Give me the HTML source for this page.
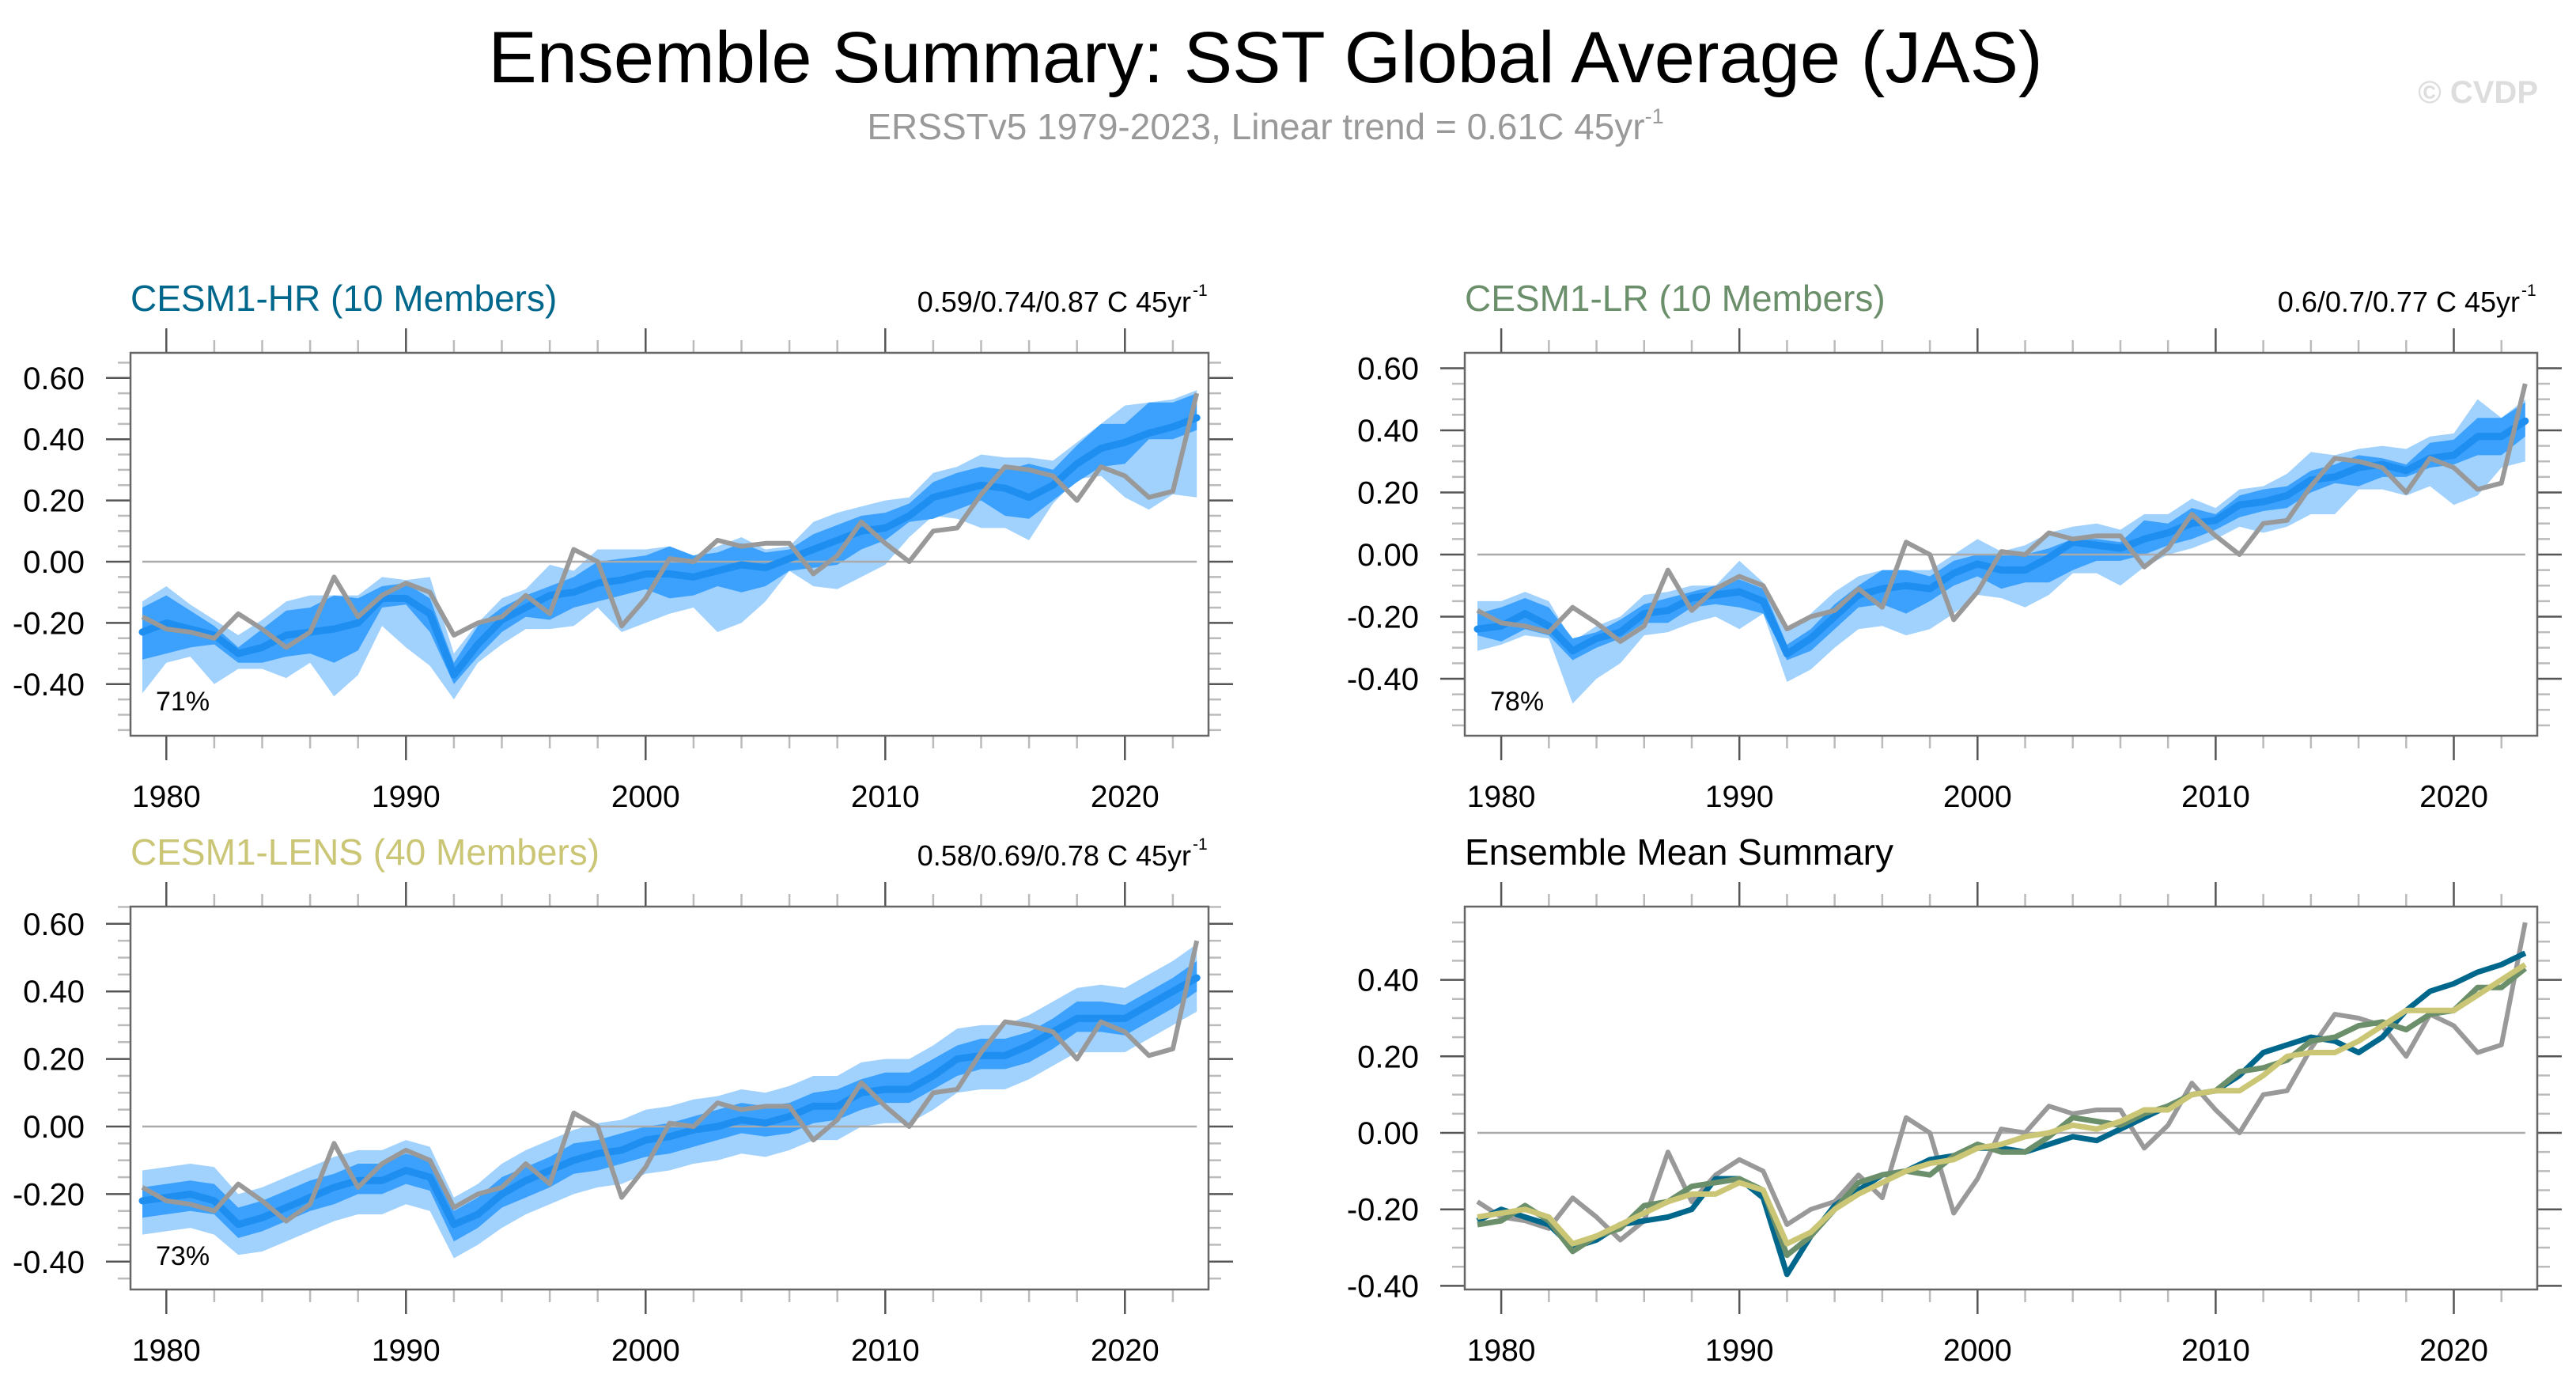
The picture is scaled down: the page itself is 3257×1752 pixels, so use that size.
<!DOCTYPE html>
<html><head><meta charset="utf-8">
<style>
html,body{margin:0;padding:0;background:#fff;}
svg{display:block;font-family:"Liberation Sans",sans-serif;}
</style></head>
<body>
<svg id="chart" width="3257" height="1752" viewBox="0 0 3257 1752" xmlns="http://www.w3.org/2000/svg">
<text x="1600" y="104" font-size="92" text-anchor="middle" fill="#000">Ensemble Summary: SST Global Average (JAS)</text>
<text x="1600" y="176" font-size="46" text-anchor="middle" fill="#999">ERSSTv5 1979-2023, Linear trend = 0.61C 45yr<tspan font-size="27" dy="-20">-1</tspan></text>
<text x="3209" y="130" font-size="40" font-weight="bold" text-anchor="end" fill="#ddd">© CVDP</text>
<g id="panels"></g>
</svg>
<script>
const years = [];
for (let y = 1979; y <= 2023; y++) years.push(y);

const obs = [-0.18,-0.22,-0.23,-0.25,-0.17,-0.22,-0.28,-0.23,-0.05,-0.18,-0.11,-0.07,-0.10,-0.24,-0.20,-0.18,-0.11,-0.17,0.04,0.00,-0.21,-0.12,0.01,0.00,0.07,0.05,0.06,0.06,-0.04,0.02,0.13,0.06,0.00,0.10,0.11,0.22,0.31,0.30,0.28,0.20,0.31,0.28,0.21,0.23,0.55];

const hrMean = [-0.23,-0.20,-0.22,-0.24,-0.30,-0.28,-0.24,-0.23,-0.22,-0.20,-0.12,-0.12,-0.17,-0.37,-0.27,-0.19,-0.15,-0.11,-0.10,-0.07,-0.06,-0.04,-0.04,-0.05,-0.03,-0.01,-0.02,0.01,0.04,0.07,0.10,0.11,0.15,0.21,0.23,0.25,0.24,0.21,0.25,0.32,0.37,0.39,0.42,0.44,0.47];
const hrDarkHi = [-0.15,-0.11,-0.16,-0.21,-0.28,-0.22,-0.16,-0.15,-0.11,-0.12,-0.08,-0.07,-0.12,-0.33,-0.21,-0.15,-0.11,-0.08,-0.05,0.00,0.01,0.02,0.05,0.02,0.03,0.06,0.03,0.04,0.09,0.12,0.15,0.16,0.19,0.26,0.29,0.31,0.30,0.32,0.30,0.38,0.45,0.45,0.52,0.52,0.55];
const hrDarkLo = [-0.32,-0.30,-0.28,-0.27,-0.33,-0.33,-0.31,-0.30,-0.33,-0.29,-0.15,-0.14,-0.23,-0.40,-0.31,-0.23,-0.18,-0.19,-0.15,-0.13,-0.11,-0.09,-0.12,-0.11,-0.08,-0.10,-0.08,-0.03,-0.02,-0.01,0.04,0.07,0.13,0.14,0.17,0.20,0.15,0.14,0.20,0.26,0.31,0.32,0.40,0.40,0.43];
const hrLightHi = [-0.13,-0.08,-0.14,-0.19,-0.24,-0.19,-0.13,-0.11,-0.11,-0.11,-0.05,-0.06,-0.05,-0.30,-0.20,-0.12,-0.09,-0.01,-0.03,0.04,0.04,0.04,0.05,0.02,0.05,0.08,0.04,0.05,0.13,0.16,0.18,0.20,0.21,0.29,0.31,0.35,0.34,0.34,0.33,0.39,0.45,0.51,0.52,0.53,0.56];
const hrLightLo = [-0.43,-0.33,-0.31,-0.40,-0.35,-0.35,-0.38,-0.33,-0.44,-0.37,-0.21,-0.28,-0.34,-0.45,-0.33,-0.27,-0.22,-0.22,-0.21,-0.15,-0.23,-0.20,-0.17,-0.15,-0.23,-0.20,-0.13,-0.03,-0.08,-0.09,-0.05,-0.01,0.08,0.15,0.14,0.11,0.11,0.07,0.19,0.27,0.28,0.21,0.17,0.22,0.21];

const lrMean = [-0.24,-0.23,-0.19,-0.23,-0.31,-0.27,-0.25,-0.19,-0.18,-0.14,-0.13,-0.12,-0.15,-0.32,-0.27,-0.20,-0.13,-0.11,-0.10,-0.11,-0.06,-0.03,-0.05,-0.05,-0.01,0.04,0.03,0.02,0.05,0.07,0.10,0.11,0.16,0.17,0.19,0.24,0.25,0.28,0.29,0.27,0.31,0.32,0.38,0.38,0.43];
const lrDarkHi = [-0.19,-0.17,-0.14,-0.17,-0.27,-0.25,-0.21,-0.16,-0.14,-0.12,-0.10,-0.08,-0.11,-0.29,-0.24,-0.16,-0.10,-0.05,-0.05,-0.07,-0.02,0.00,0.00,0.00,0.02,0.05,0.05,0.04,0.11,0.10,0.15,0.13,0.19,0.21,0.22,0.27,0.29,0.32,0.31,0.29,0.36,0.37,0.44,0.44,0.49];
const lrDarkLo = [-0.26,-0.28,-0.24,-0.26,-0.34,-0.30,-0.27,-0.22,-0.22,-0.17,-0.16,-0.17,-0.19,-0.34,-0.31,-0.24,-0.17,-0.16,-0.19,-0.15,-0.10,-0.07,-0.11,-0.09,-0.09,-0.05,-0.02,-0.02,0.00,0.03,0.05,0.08,0.12,0.14,0.15,0.20,0.23,0.22,0.25,0.25,0.28,0.29,0.32,0.32,0.38];
const lrLightHi = [-0.15,-0.15,-0.12,-0.15,-0.28,-0.23,-0.20,-0.13,-0.12,-0.10,-0.10,-0.02,-0.09,-0.25,-0.19,-0.12,-0.07,-0.05,-0.05,-0.05,0.00,0.05,0.01,0.03,0.07,0.09,0.10,0.08,0.13,0.13,0.18,0.15,0.21,0.22,0.26,0.33,0.32,0.34,0.35,0.34,0.38,0.39,0.50,0.44,0.50];
const lrLightLo = [-0.31,-0.29,-0.26,-0.27,-0.48,-0.40,-0.35,-0.26,-0.25,-0.22,-0.20,-0.24,-0.19,-0.41,-0.37,-0.30,-0.24,-0.23,-0.26,-0.24,-0.19,-0.13,-0.14,-0.17,-0.13,-0.06,-0.06,-0.10,-0.04,0.00,0.02,0.05,0.09,0.07,0.09,0.13,0.13,0.21,0.21,0.19,0.22,0.16,0.19,0.28,0.30];

const lensMean = [-0.22,-0.21,-0.20,-0.22,-0.29,-0.27,-0.24,-0.21,-0.18,-0.16,-0.16,-0.13,-0.15,-0.29,-0.26,-0.20,-0.16,-0.13,-0.10,-0.08,-0.07,-0.04,-0.03,-0.01,0.00,0.02,0.01,0.03,0.06,0.06,0.10,0.11,0.11,0.15,0.20,0.21,0.21,0.24,0.28,0.32,0.32,0.32,0.36,0.40,0.44];
const lensDarkHi = [-0.18,-0.17,-0.16,-0.17,-0.24,-0.22,-0.19,-0.16,-0.14,-0.11,-0.11,-0.08,-0.10,-0.25,-0.21,-0.15,-0.12,-0.09,-0.05,-0.04,-0.02,0.00,0.01,0.03,0.05,0.07,0.06,0.07,0.10,0.11,0.14,0.16,0.16,0.20,0.24,0.26,0.26,0.28,0.32,0.37,0.37,0.36,0.40,0.44,0.49];
const lensDarkLo = [-0.27,-0.26,-0.25,-0.26,-0.33,-0.31,-0.28,-0.25,-0.23,-0.20,-0.20,-0.17,-0.19,-0.34,-0.30,-0.24,-0.21,-0.18,-0.14,-0.13,-0.11,-0.09,-0.08,-0.06,-0.04,-0.02,-0.03,-0.02,0.01,0.02,0.05,0.07,0.07,0.11,0.15,0.17,0.17,0.19,0.23,0.28,0.28,0.27,0.31,0.35,0.40];
const lensLightHi = [-0.13,-0.12,-0.11,-0.12,-0.20,-0.18,-0.15,-0.12,-0.09,-0.07,-0.07,-0.04,-0.06,-0.21,-0.17,-0.11,-0.07,-0.04,-0.01,0.01,0.02,0.05,0.06,0.08,0.09,0.11,0.10,0.12,0.15,0.15,0.19,0.20,0.20,0.24,0.29,0.30,0.30,0.33,0.37,0.41,0.42,0.41,0.45,0.49,0.54];
const lensLightLo = [-0.32,-0.31,-0.30,-0.32,-0.38,-0.37,-0.34,-0.31,-0.28,-0.26,-0.26,-0.23,-0.25,-0.39,-0.35,-0.30,-0.26,-0.23,-0.20,-0.18,-0.17,-0.14,-0.13,-0.11,-0.10,-0.08,-0.09,-0.07,-0.04,-0.04,0.00,0.01,0.01,0.05,0.10,0.11,0.11,0.14,0.18,0.22,0.22,0.22,0.26,0.30,0.34];

const yTicksA = [-0.4,-0.2,0,0.2,0.4,0.6];
const yTickLabelsA = ["-0.40","-0.20","0.00","0.20","0.40","0.60"];
const xTicks = [1980,1990,2000,2010,2020];
const xTickLabels = ["1980","1990","2000","2010","2020"];

const NS = "http://www.w3.org/2000/svg";
const root = document.getElementById("panels");
function el(tag, attrs, parent, text) {
  const e = document.createElementNS(NS, tag);
  for (const k in attrs) e.setAttribute(k, attrs[k]);
  if (text !== undefined) e.textContent = text;
  (parent || root).appendChild(e);
  return e;
}

function panel(cfg) {
  const g = el("g", {});
  
  
  const {L, R, T, B, x0, pxYr, y0, pxUnit} = cfg;
  const X = yr => x0 + (yr - 1979) * pxYr;
  const Y = v => y0 - v * pxUnit;
  const vMin = (y0 - B) / pxUnit, vMax = (y0 - T) / pxUnit;

  for (let k = Math.ceil(vMin / 0.05 - 1e-6); k * 0.05 <= vMax + 1e-6; k++) {
    const v = k * 0.05, yy = Y(v);
    const major = Math.abs(v / 0.2 - Math.round(v / 0.2)) < 1e-6;
    const t1 = el("line", {x1: L - (major ? 31 : 16), x2: L, y1: yy, y2: yy, stroke: major ? "#555" : "#bbb", "stroke-width": 2.5}, g);
    
    
    const t2 = el("line", {x1: R, x2: R + (major ? 31 : 16), y1: yy, y2: yy, stroke: major ? "#555" : "#bbb", "stroke-width": 2.5}, g);
    
    
  }
  for (let yr = 1980; yr <= 2023; yr += 2) {
    const xx = X(yr), major = yr % 10 === 0;
    const len = major ? 31 : 16;
    const a = el("line", {x1: xx, x2: xx, y1: T - len, y2: T, stroke: major ? "#555" : "#bbb", "stroke-width": 2.5}, g);
    
    
    const b = el("line", {x1: xx, x2: xx, y1: B, y2: B + len, stroke: major ? "#555" : "#bbb", "stroke-width": 2.5}, g);
    
    
  }
  const yt = cfg.yTicks;
  yt.forEach((v, i) => {
    if (v < vMin || v > vMax) return;
    const t = el("text", {x: L - 58, y: Y(v) + 14, "font-size": 40, "text-anchor": "end", fill: "#000"}, g, cfg.yLabels[i]);
    
    
  });
  xTicks.forEach((yr, i) => {
    const t = el("text", {x: X(yr), y: B + 90, "font-size": 39, "text-anchor": "middle", fill: "#000"}, g, xTickLabels[i]);
    
    
  });

  const pathOf = arr => arr.map((v, i) => (i ? "L" : "M") + X(years[i]).toFixed(1) + " " + Y(v).toFixed(1)).join(" ");
  const bandOf = (hi, lo) => {
    let d = hi.map((v, i) => (i ? "L" : "M") + X(years[i]).toFixed(1) + " " + Y(v).toFixed(1)).join(" ");
    for (let i = lo.length - 1; i >= 0; i--) d += " L" + X(years[i]).toFixed(1) + " " + Y(lo[i]).toFixed(1);
    return d + " Z";
  };

  if (cfg.bands) {
    const lb = el("path", {d: bandOf(cfg.bands.lightHi, cfg.bands.lightLo), fill: "#a1d1fd"}, g);
    
    
    const db = el("path", {d: bandOf(cfg.bands.darkHi, cfg.bands.darkLo), fill: "#3ba1fd"}, g);
    
    
  }
  const z = el("line", {x1: x0, x2: X(2023), y1: Y(0), y2: Y(0), stroke: "#aaa", "stroke-width": 2.5}, g);
  
  

  if (cfg.bands) {
    const m = el("path", {d: pathOf(cfg.mean), fill: "none", stroke: "#1e8ef0", "stroke-width": 9, "stroke-linejoin": "round", "stroke-linecap": "round"}, g);
    
    
    const o = el("path", {d: pathOf(obs), fill: "none", stroke: "#999", "stroke-width": 6, "stroke-linejoin": "round"}, g);
    
    
  } else {
    const o = el("path", {d: pathOf(obs), fill: "none", stroke: "#999", "stroke-width": 6, "stroke-linejoin": "round"}, g);
    
    
    cfg.lines.forEach(ln => {
      const p = el("path", {d: pathOf(ln.data), fill: "none", stroke: ln.color, "stroke-width": 7, "stroke-linejoin": "round"}, g);
      
      
    });
  }
  const box = el("rect", {x: L, y: T, width: R - L, height: B - T, fill: "none", stroke: "#666", "stroke-width": 2.5}, g);
  
  

  const tt = el("text", {x: L, y: T - 53, "font-size": 46, fill: cfg.titleColor}, g, cfg.title);
  
  
  if (cfg.trend) {
    const tr = el("text", {x: R - 22, y: T - 52, "font-size": 36, "text-anchor": "end", fill: "#000"}, g, cfg.trend);
    
    
    const sp = el("text", {x: R - 20, y: T - 72, "font-size": 21, fill: "#000"}, g, "-1");
    
    
  }
  if (cfg.pct) {
    const pc = el("text", {x: L + 32, y: cfg.pctY, "font-size": 34, fill: "#000"}, g, cfg.pct);
    
    
  }
}

panel({name: "cesm1-hr-panel", L: 165, R: 1528, T: 446, B: 930, x0: 180, pxYr: 30.3, y0: 710, pxUnit: 387,
  yTicks: yTicksA, yLabels: yTickLabelsA, title: "CESM1-HR (10 Members)", titleColor: "#00678c",
  trend: "0.59/0.74/0.87 C 45yr", pct: "71%", pctY: 898, mean: hrMean,
  bands: {darkHi: hrDarkHi, darkLo: hrDarkLo, lightHi: hrLightHi, lightLo: hrLightLo}});
panel({name: "cesm1-lr-panel", L: 1852, R: 3208, T: 446, B: 930, x0: 1868, pxYr: 30.11, y0: 701, pxUnit: 392.6,
  yTicks: yTicksA, yLabels: yTickLabelsA, title: "CESM1-LR (10 Members)", titleColor: "#6a8f6a",
  trend: "0.6/0.7/0.77 C 45yr", pct: "78%", pctY: 898, mean: lrMean,
  bands: {darkHi: lrDarkHi, darkLo: lrDarkLo, lightHi: lrLightHi, lightLo: lrLightLo}});
panel({name: "cesm1-lens-panel", L: 165, R: 1528, T: 1146, B: 1630, x0: 180, pxYr: 30.3, y0: 1424, pxUnit: 427,
  yTicks: yTicksA, yLabels: yTickLabelsA, title: "CESM1-LENS (40 Members)", titleColor: "#cac676",
  trend: "0.58/0.69/0.78 C 45yr", pct: "73%", pctY: 1599, mean: lensMean,
  bands: {darkHi: lensDarkHi, darkLo: lensDarkLo, lightHi: lensLightHi, lightLo: lensLightLo}});
panel({name: "ensemble-mean-summary-panel", L: 1852, R: 3208, T: 1146, B: 1630, x0: 1868, pxYr: 30.11, y0: 1432, pxUnit: 483.5,
  yTicks: [-0.4,-0.2,0,0.2,0.4], yLabels: ["-0.40","-0.20","0.00","0.20","0.40"], title: "Ensemble Mean Summary", titleColor: "#000",
  lines: [
    {name: "cesm1-hr-mean-line", data: hrMean, color: "#00678c"},
    {name: "cesm1-lr-mean-line", data: lrMean, color: "#6a8f6a"},
    {name: "cesm1-lens-mean-line", data: lensMean, color: "#cac676"}
  ]});
</script>
</body></html>
